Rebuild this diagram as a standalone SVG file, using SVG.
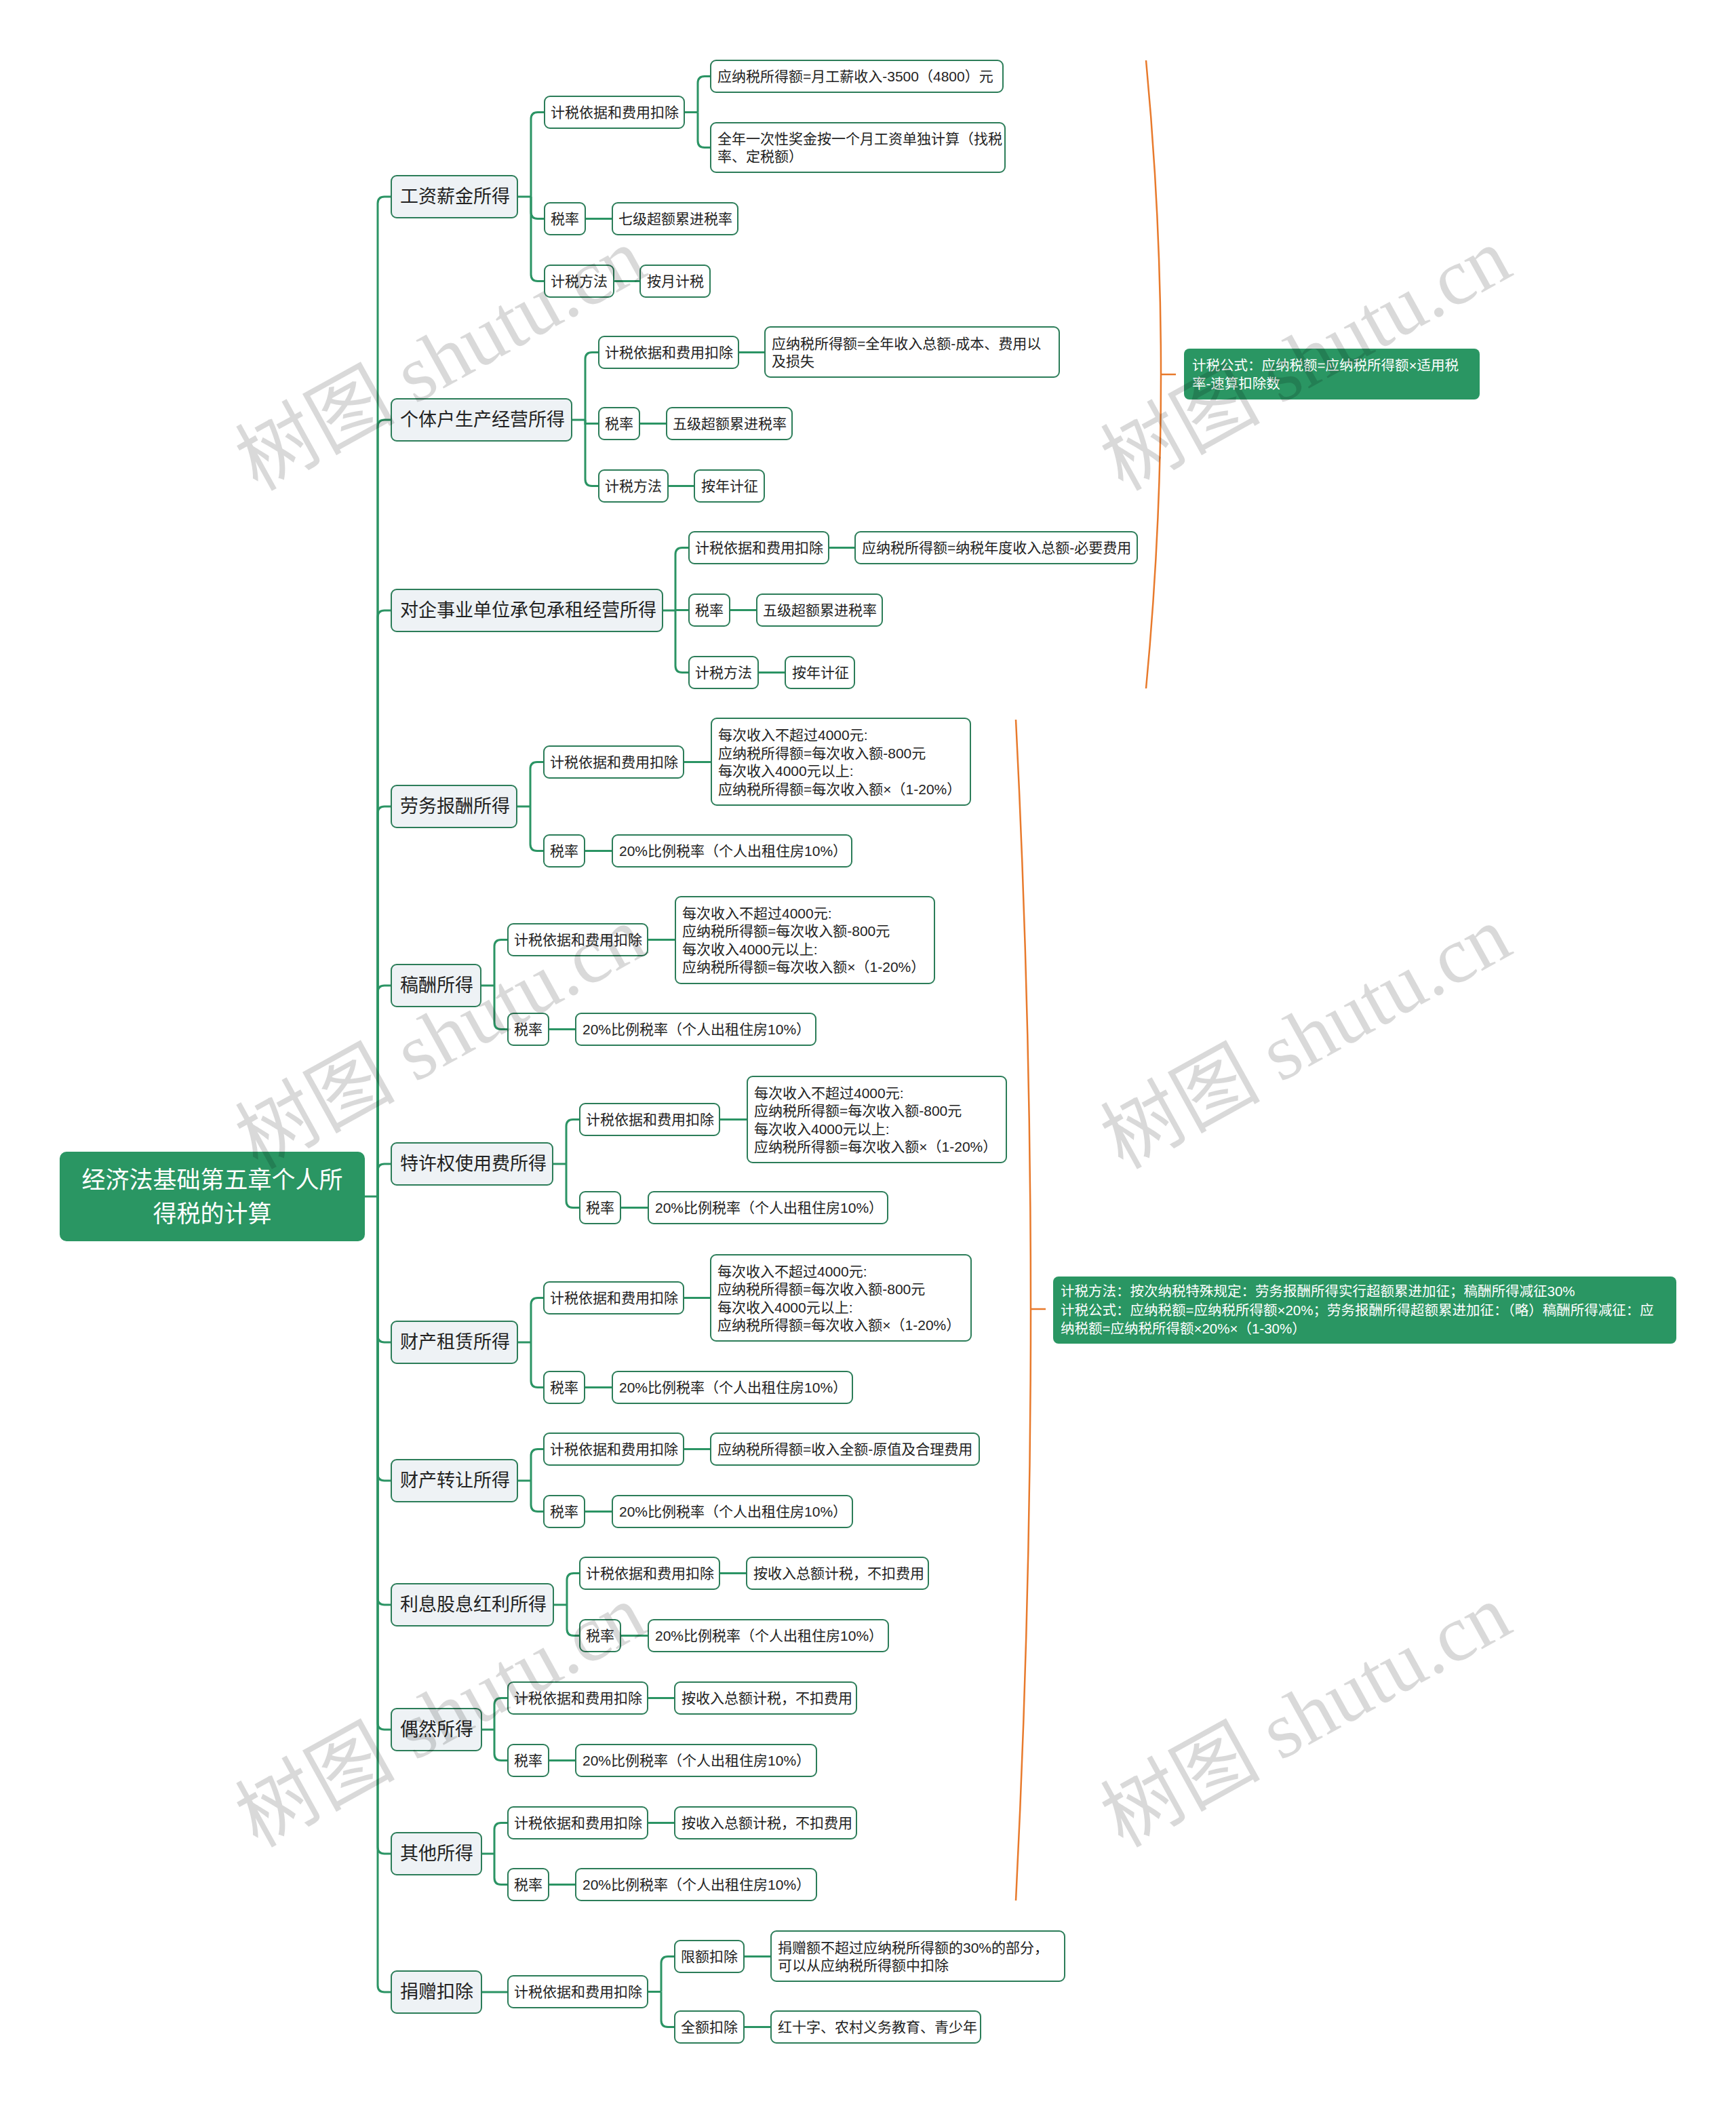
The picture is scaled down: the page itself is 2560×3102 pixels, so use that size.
<svg xmlns="http://www.w3.org/2000/svg" width="2560" height="3102" viewBox="0 0 2560 3102">
<style>
text{font-family:"Liberation Sans","Noto Sans CJK SC",sans-serif;dominant-baseline:central;fill:#222}
.m rect{fill:#eef2f5;stroke:#2c7d59;stroke-width:2}
.m text{font-size:27px}
.s rect{fill:#fff;stroke:#2c7d59;stroke-width:2}
.s text{font-size:21px}
.g rect{fill:#2a9663}
.g text{fill:#fff;font-size:20.5px}
#connectors path{fill:none;stroke:#2b9464;stroke-width:3}
#brackets path{fill:none;stroke:#e87a2c;stroke-width:2.5}
.wm{font-family:"Liberation Serif","Noto Sans CJK SC",serif;font-size:118px;fill:#000;fill-opacity:0.15;text-anchor:middle}
</style>
<rect width="2560" height="3102" fill="#fff"/>

<g id="connectors">
<path d="M538,1764 H557"/>
<path d="M557,1764 V300 Q557,290 567,290 H577"/>
<path d="M557,1764 V629 Q557,619 567,619 H577"/>
<path d="M557,1764 V910 Q557,900 567,900 H577"/>
<path d="M557,1764 V1199 Q557,1189 567,1189 H577"/>
<path d="M557,1764 V1463 Q557,1453 567,1453 H577"/>
<path d="M557,1764 V1726 Q557,1716 567,1716 H577"/>
<path d="M557,1764 V1969 Q557,1979 567,1979 H577"/>
<path d="M557,1764 V2173 Q557,2183 567,2183 H577"/>
<path d="M557,1764 V2356 Q557,2366 567,2366 H577"/>
<path d="M557,1764 V2540 Q557,2550 567,2550 H577"/>
<path d="M557,1764 V2723 Q557,2733 567,2733 H577"/>
<path d="M557,1764 V2927 Q557,2937 567,2937 H577"/>

<path d="M763,290 H783"/>
<path d="M783,290 V175.5 Q783,165.5 793,165.5 H803"/>
<path d="M783,290 V312.5 Q783,322.5 793,322.5 H803"/>
<path d="M783,290 V404.5 Q783,414.5 793,414.5 H803"/>
<path d="M1009,165.5 H1029"/>
<path d="M1029,165.5 V122.5 Q1029,112.5 1039,112.5 H1048"/>
<path d="M1029,165.5 V207.5 Q1029,217.5 1039,217.5 H1048"/>
<path d="M863,322.5 H903"/>
<path d="M905,414.5 H944"/>

<path d="M843,619 H863"/>
<path d="M863,619 V529.5 Q863,519.5 873,519.5 H883"/>
<path d="M863,619 V624.5 H883"/>
<path d="M863,619 V706.5 Q863,716.5 873,716.5 H883"/>
<path d="M1089,519.5 H1128"/>
<path d="M943,624.5 H983"/>
<path d="M985,716.5 H1024"/>

<path d="M977,900 H996"/>
<path d="M996,900 V817.5 Q996,807.5 1006,807.5 H1016"/>
<path d="M996,899.5 H1016"/>
<path d="M996,900 V981.5 Q996,991.5 1006,991.5 H1016"/>
<path d="M1222,807.5 H1261"/>
<path d="M1076,899.5 H1116"/>
<path d="M1118,991.5 H1158"/>

<path d="M762,1189 H782"/>
<path d="M782,1189 V1133.5 Q782,1123.5 792,1123.5 H802"/>
<path d="M782,1189 V1244.5 Q782,1254.5 792,1254.5 H802"/>
<path d="M1008,1123.5 H1049"/>
<path d="M862,1254.5 H903"/>

<path d="M709,1453 H729"/>
<path d="M729,1453 V1395.5 Q729,1385.5 739,1385.5 H749"/>
<path d="M729,1453 V1507.5 Q729,1517.5 739,1517.5 H749"/>
<path d="M955,1385.5 H996"/>
<path d="M809,1517.5 H849"/>

<path d="M815,1716 H835"/>
<path d="M835,1716 V1660.5 Q835,1650.5 845,1650.5 H855"/>
<path d="M835,1716 V1770.5 Q835,1780.5 845,1780.5 H855"/>
<path d="M1061,1650.5 H1102"/>
<path d="M915,1780.5 H956"/>

<path d="M763,1979 H783"/>
<path d="M783,1979 V1923.5 Q783,1913.5 793,1913.5 H802"/>
<path d="M783,1979 V2035.5 Q783,2045.5 793,2045.5 H802"/>
<path d="M1008,1913.5 H1048"/>
<path d="M862,2045.5 H903"/>

<path d="M763,2183 H783"/>
<path d="M783,2183 V2146.5 Q783,2136.5 793,2136.5 H802"/>
<path d="M783,2183 V2218.5 Q783,2228.5 793,2228.5 H802"/>
<path d="M1008,2136.5 H1048"/>
<path d="M862,2228.5 H903"/>

<path d="M816,2366 H836"/>
<path d="M836,2366 V2329.5 Q836,2319.5 846,2319.5 H855"/>
<path d="M836,2366 V2401.5 Q836,2411.5 846,2411.5 H855"/>
<path d="M1061,2319.5 H1101"/>
<path d="M915,2411.5 H956"/>

<path d="M710,2550 H729"/>
<path d="M729,2550 V2513.5 Q729,2503.5 739,2503.5 H749"/>
<path d="M729,2550 V2585.5 Q729,2595.5 739,2595.5 H749"/>
<path d="M955,2503.5 H995"/>
<path d="M809,2595.5 H849"/>

<path d="M710,2733 H729"/>
<path d="M729,2733 V2697.5 Q729,2687.5 739,2687.5 H749"/>
<path d="M729,2733 V2768.5 Q729,2778.5 739,2778.5 H749"/>
<path d="M955,2687.5 H995"/>
<path d="M809,2778.5 H849"/>

<path d="M710,2937 H749"/>
<path d="M955,2936.5 H975"/>
<path d="M975,2936.5 V2894.5 Q975,2884.5 985,2884.5 H995"/>
<path d="M975,2936.5 V2978.5 Q975,2988.5 985,2988.5 H995"/>
<path d="M1097,2884.5 H1137"/>
<path d="M1097,2988.5 H1137"/>
</g>

<g id="brackets">
<path d="M1690,89 Q1734,552 1690,1015"/>
<path d="M1712,552 H1734"/>
<path d="M1498,1061 Q1542,1930 1498,2802"/>
<path d="M1520,1930 H1542"/>
</g>

<g id="root" class="g">
<rect x="88" y="1698" width="450" height="132" rx="10"/>
<text x="313" y="1739" text-anchor="middle" style="font-size:35px">经济法基础第五章个人所</text>
<text x="313" y="1789" text-anchor="middle" style="font-size:35px">得税的计算</text>
</g>

<g id="n1" class="m"><rect x="577" y="259" width="186" height="62" rx="8"/><text x="590" y="290">工资薪金所得</text></g>
<g id="n1a" class="s"><rect x="803" y="142" width="206" height="47" rx="8"/><text x="812" y="165.5">计税依据和费用扣除</text></g>
<g id="n1a1" class="s"><rect x="1048" y="89" width="431" height="47" rx="8"/><text x="1058" y="112.5">应纳税所得额=月工薪收入-3500（4800）元</text></g>
<g id="n1a2" class="s"><rect x="1048" y="181" width="434" height="73" rx="8"/><text x="1058" y="204.5">全年一次性奖金按一个月工资单独计算（找税</text><text x="1058" y="230.5">率、定税额）</text></g>
<g id="n1b" class="s"><rect x="803" y="299" width="60" height="47" rx="8"/><text x="812" y="322.5">税率</text></g>
<g id="n1b1" class="s"><rect x="903" y="299" width="185" height="47" rx="8"/><text x="912" y="322.5">七级超额累进税率</text></g>
<g id="n1c" class="s"><rect x="803" y="391" width="102" height="47" rx="8"/><text x="812" y="414.5">计税方法</text></g>
<g id="n1c1" class="s"><rect x="944" y="391" width="103" height="47" rx="8"/><text x="954" y="414.5">按月计税</text></g>

<g id="n2" class="m"><rect x="577" y="588" width="266" height="62" rx="8"/><text x="590" y="619">个体户生产经营所得</text></g>
<g id="n2a" class="s"><rect x="883" y="496" width="206" height="47" rx="8"/><text x="892" y="519.5">计税依据和费用扣除</text></g>
<g id="n2a1" class="s"><rect x="1128" y="482" width="434" height="74" rx="8"/><text x="1138" y="506">应纳税所得额=全年收入总额-成本、费用以</text><text x="1138" y="532">及损失</text></g>
<g id="n2b" class="s"><rect x="883" y="601" width="60" height="47" rx="8"/><text x="892" y="624.5">税率</text></g>
<g id="n2b1" class="s"><rect x="983" y="601" width="185" height="47" rx="8"/><text x="992" y="624.5">五级超额累进税率</text></g>
<g id="n2c" class="s"><rect x="883" y="693" width="102" height="47" rx="8"/><text x="892" y="716.5">计税方法</text></g>
<g id="n2c1" class="s"><rect x="1024" y="693" width="103" height="47" rx="8"/><text x="1034" y="716.5">按年计征</text></g>

<g id="n3" class="m"><rect x="577" y="869" width="400" height="62" rx="8"/><text x="590" y="900">对企事业单位承包承租经营所得</text></g>
<g id="n3a" class="s"><rect x="1016" y="784" width="206" height="47" rx="8"/><text x="1025" y="807.5">计税依据和费用扣除</text></g>
<g id="n3a1" class="s"><rect x="1261" y="784" width="416" height="47" rx="8"/><text x="1271" y="807.5">应纳税所得额=纳税年度收入总额-必要费用</text></g>
<g id="n3b" class="s"><rect x="1016" y="876" width="60" height="47" rx="8"/><text x="1025" y="899.5">税率</text></g>
<g id="n3b1" class="s"><rect x="1116" y="876" width="185" height="47" rx="8"/><text x="1125" y="899.5">五级超额累进税率</text></g>
<g id="n3c" class="s"><rect x="1016" y="968" width="102" height="47" rx="8"/><text x="1025" y="991.5">计税方法</text></g>
<g id="n3c1" class="s"><rect x="1158" y="968" width="102" height="47" rx="8"/><text x="1168" y="991.5">按年计征</text></g>

<g id="n4" class="m"><rect x="577" y="1158" width="185" height="62" rx="8"/><text x="590" y="1189">劳务报酬所得</text></g>
<g id="n4a" class="s"><rect x="802" y="1100" width="206" height="47" rx="8"/><text x="811" y="1123.5">计税依据和费用扣除</text></g>
<g id="n4a1" class="s"><rect x="1049" y="1059" width="382" height="128" rx="8"/><text x="1059" y="1083.5">每次收入不超过4000元:</text><text x="1059" y="1110">应纳税所得额=每次收入额-800元</text><text x="1059" y="1136.5">每次收入4000元以上:</text><text x="1059" y="1163">应纳税所得额=每次收入额×（1-20%）</text></g>
<g id="n4b" class="s"><rect x="802" y="1231" width="60" height="47" rx="8"/><text x="811" y="1254.5">税率</text></g>
<g id="n4b1" class="s"><rect x="903" y="1231" width="353" height="47" rx="8"/><text x="913" y="1254.5">20%比例税率（个人出租住房10%）</text></g>

<g id="n5" class="m"><rect x="577" y="1422" width="132" height="62" rx="8"/><text x="590" y="1453">稿酬所得</text></g>
<g id="n5a" class="s"><rect x="749" y="1362" width="206" height="47" rx="8"/><text x="758" y="1385.5">计税依据和费用扣除</text></g>
<g id="n5a1" class="s"><rect x="996" y="1322" width="382" height="128" rx="8"/><text x="1006" y="1346">每次收入不超过4000元:</text><text x="1006" y="1372.5">应纳税所得额=每次收入额-800元</text><text x="1006" y="1399">每次收入4000元以上:</text><text x="1006" y="1425.5">应纳税所得额=每次收入额×（1-20%）</text></g>
<g id="n5b" class="s"><rect x="749" y="1494" width="60" height="47" rx="8"/><text x="758" y="1517.5">税率</text></g>
<g id="n5b1" class="s"><rect x="849" y="1494" width="354" height="47" rx="8"/><text x="859" y="1517.5">20%比例税率（个人出租住房10%）</text></g>

<g id="n6" class="m"><rect x="577" y="1685" width="238" height="62" rx="8"/><text x="590" y="1716">特许权使用费所得</text></g>
<g id="n6a" class="s"><rect x="855" y="1627" width="206" height="47" rx="8"/><text x="864" y="1650.5">计税依据和费用扣除</text></g>
<g id="n6a1" class="s"><rect x="1102" y="1587" width="382" height="127" rx="8"/><text x="1112" y="1611">每次收入不超过4000元:</text><text x="1112" y="1637.5">应纳税所得额=每次收入额-800元</text><text x="1112" y="1664">每次收入4000元以上:</text><text x="1112" y="1690.5">应纳税所得额=每次收入额×（1-20%）</text></g>
<g id="n6b" class="s"><rect x="855" y="1757" width="60" height="47" rx="8"/><text x="864" y="1780.5">税率</text></g>
<g id="n6b1" class="s"><rect x="956" y="1757" width="353" height="47" rx="8"/><text x="966" y="1780.5">20%比例税率（个人出租住房10%）</text></g>

<g id="n7" class="m"><rect x="577" y="1948" width="186" height="62" rx="8"/><text x="590" y="1979">财产租赁所得</text></g>
<g id="n7a" class="s"><rect x="802" y="1890" width="206" height="47" rx="8"/><text x="811" y="1913.5">计税依据和费用扣除</text></g>
<g id="n7a1" class="s"><rect x="1048" y="1850" width="384" height="127" rx="8"/><text x="1058" y="1874">每次收入不超过4000元:</text><text x="1058" y="1900.5">应纳税所得额=每次收入额-800元</text><text x="1058" y="1927">每次收入4000元以上:</text><text x="1058" y="1953.5">应纳税所得额=每次收入额×（1-20%）</text></g>
<g id="n7b" class="s"><rect x="802" y="2022" width="60" height="47" rx="8"/><text x="811" y="2045.5">税率</text></g>
<g id="n7b1" class="s"><rect x="903" y="2022" width="354" height="47" rx="8"/><text x="913" y="2045.5">20%比例税率（个人出租住房10%）</text></g>

<g id="n8" class="m"><rect x="577" y="2152" width="186" height="62" rx="8"/><text x="590" y="2183">财产转让所得</text></g>
<g id="n8a" class="s"><rect x="802" y="2113" width="206" height="47" rx="8"/><text x="811" y="2136.5">计税依据和费用扣除</text></g>
<g id="n8a1" class="s"><rect x="1048" y="2113" width="396" height="47" rx="8"/><text x="1058" y="2136.5">应纳税所得额=收入全额-原值及合理费用</text></g>
<g id="n8b" class="s"><rect x="802" y="2205" width="60" height="47" rx="8"/><text x="811" y="2228.5">税率</text></g>
<g id="n8b1" class="s"><rect x="903" y="2205" width="354" height="47" rx="8"/><text x="913" y="2228.5">20%比例税率（个人出租住房10%）</text></g>

<g id="n9" class="m"><rect x="577" y="2335" width="239" height="62" rx="8"/><text x="590" y="2366">利息股息红利所得</text></g>
<g id="n9a" class="s"><rect x="855" y="2296" width="206" height="47" rx="8"/><text x="864" y="2319.5">计税依据和费用扣除</text></g>
<g id="n9a1" class="s"><rect x="1101" y="2296" width="268" height="47" rx="8"/><text x="1111" y="2319.5">按收入总额计税，不扣费用</text></g>
<g id="n9b" class="s"><rect x="855" y="2388" width="60" height="47" rx="8"/><text x="864" y="2411.5">税率</text></g>
<g id="n9b1" class="s"><rect x="956" y="2388" width="354" height="47" rx="8"/><text x="966" y="2411.5">20%比例税率（个人出租住房10%）</text></g>

<g id="n10" class="m"><rect x="577" y="2519" width="133" height="62" rx="8"/><text x="590" y="2550">偶然所得</text></g>
<g id="n10a" class="s"><rect x="749" y="2480" width="206" height="47" rx="8"/><text x="758" y="2503.5">计税依据和费用扣除</text></g>
<g id="n10a1" class="s"><rect x="995" y="2480" width="268" height="47" rx="8"/><text x="1005" y="2503.5">按收入总额计税，不扣费用</text></g>
<g id="n10b" class="s"><rect x="749" y="2572" width="60" height="47" rx="8"/><text x="758" y="2595.5">税率</text></g>
<g id="n10b1" class="s"><rect x="849" y="2572" width="355" height="47" rx="8"/><text x="859" y="2595.5">20%比例税率（个人出租住房10%）</text></g>

<g id="n11" class="m"><rect x="577" y="2702" width="133" height="62" rx="8"/><text x="590" y="2733">其他所得</text></g>
<g id="n11a" class="s"><rect x="749" y="2664" width="206" height="47" rx="8"/><text x="758" y="2687.5">计税依据和费用扣除</text></g>
<g id="n11a1" class="s"><rect x="995" y="2664" width="268" height="47" rx="8"/><text x="1005" y="2687.5">按收入总额计税，不扣费用</text></g>
<g id="n11b" class="s"><rect x="749" y="2755" width="60" height="47" rx="8"/><text x="758" y="2778.5">税率</text></g>
<g id="n11b1" class="s"><rect x="849" y="2755" width="355" height="47" rx="8"/><text x="859" y="2778.5">20%比例税率（个人出租住房10%）</text></g>

<g id="n12" class="m"><rect x="577" y="2906" width="133" height="62" rx="8"/><text x="590" y="2937">捐赠扣除</text></g>
<g id="n12a" class="s"><rect x="749" y="2913" width="206" height="47" rx="8"/><text x="758" y="2936.5">计税依据和费用扣除</text></g>
<g id="n12a1" class="s"><rect x="995" y="2861" width="102" height="47" rx="8"/><text x="1004" y="2884.5">限额扣除</text></g>
<g id="n12a1a" class="s"><rect x="1137" y="2847" width="433" height="74" rx="8"/><text x="1147" y="2871">捐赠额不超过应纳税所得额的30%的部分，</text><text x="1147" y="2897">可以从应纳税所得额中扣除</text></g>
<g id="n12a2" class="s"><rect x="995" y="2965" width="102" height="47" rx="8"/><text x="1004" y="2988.5">全额扣除</text></g>
<g id="n12a2a" class="s"><rect x="1137" y="2965" width="309" height="47" rx="8"/><text x="1147" y="2988.5">红十字、农村义务教育、青少年</text></g>

<g id="summary1" class="g"><rect x="1746" y="514" width="436" height="75" rx="8"/><text x="1758" y="538">计税公式：应纳税额=应纳税所得额×适用税</text><text x="1758" y="565">率-速算扣除数</text></g>
<g id="summary2" class="g"><rect x="1553" y="1882" width="919" height="99" rx="8"/><text x="1564" y="1903">计税方法：按次纳税特殊规定：劳务报酬所得实行超额累进加征；稿酬所得减征30%</text><text x="1564" y="1931">计税公式：应纳税额=应纳税所得额×20%；劳务报酬所得超额累进加征：（略）稿酬所得减征：应</text><text x="1564" y="1958">纳税额=应纳税所得额×20%×（1-30%）</text></g>

<g id="watermarks">
<text class="wm" transform="translate(650,530) rotate(-29)">树图 shutu.cn</text>
<text class="wm" transform="translate(1926,530) rotate(-29)">树图 shutu.cn</text>
<text class="wm" transform="translate(650,1530) rotate(-29)">树图 shutu.cn</text>
<text class="wm" transform="translate(1926,1530) rotate(-29)">树图 shutu.cn</text>
<text class="wm" transform="translate(650,2530) rotate(-29)">树图 shutu.cn</text>
<text class="wm" transform="translate(1926,2530) rotate(-29)">树图 shutu.cn</text>
</g>
</svg>
